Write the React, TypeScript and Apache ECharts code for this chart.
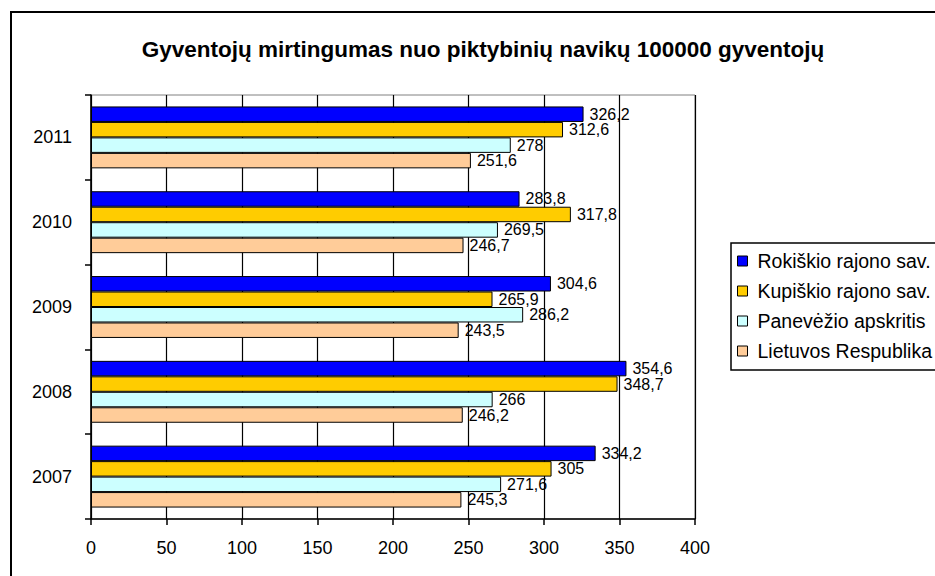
import React, { useEffect, useRef } from "react";
import * as echarts from "echarts";

const years = ["2007", "2008", "2009", "2010", "2011"];
const seriesNames = [
  "Rokiškio rajono sav.",
  "Kupiškio rajono sav.",
  "Panevėžio apskritis",
  "Lietuvos Respublika",
];
const rokiskis = [334.2, 354.6, 304.6, 283.8, 326.2];
const kupiskis = [305, 348.7, 265.9, 317.8, 312.6];
const panevezys = [271.6, 266, 286.2, 269.5, 278];
const lietuva = [245.3, 246.2, 243.5, 246.7, 251.6];
const colors = ["#0000FF", "#FFCC00", "#CCFFFF", "#FFCC99"];
const titleText = "Gyventojų mirtingumas nuo piktybinių navikų 100000 gyventojų";

const FONT = "'Liberation Sans', Arial, sans-serif";

export default function App() {
  const ref = useRef<HTMLDivElement>(null);
  useEffect(() => {
    if (!ref.current) return;
    const chart = echarts.init(ref.current, null, { renderer: "svg" });
    const dataSets = [rokiskis, kupiskis, panevezys, lietuva];
    const series = [0, 1, 2, 3].map((i) => ({
      name: seriesNames[i],
      type: "bar" as const,
      data: dataSets[i],
      barGap: "0%",
      barCategoryGap: "27%",
      itemStyle: { color: colors[i], borderColor: "#000", borderWidth: 1 },
      label: {
        show: true,
        position: "right" as const,
        distance: 6,
        color: "#000",
        fontSize: 16,
        lineHeight: 15,
        fontFamily: FONT,
        formatter: (p: any) => String(p.value).replace(".", ","),
      },
    }));
    chart.setOption({
      animation: false,
      backgroundColor: "#fff",
      textStyle: { fontFamily: FONT },
      title: {
        text: titleText,
        left: 478,
        top: 33,
        textAlign: "center",
        textStyle: { fontSize: 22.5, fontWeight: "bold", color: "#000", fontFamily: FONT },
      },
      graphic: [
        {
          type: "rect",
          shape: { x: 11, y: 12, width: 1000, height: 700 },
          style: { fill: "none", stroke: "#000", lineWidth: 2 },
          silent: true,
          z: 100,
        },
        {
          type: "rect",
          shape: { x: 731, y: 243, width: 300, height: 127 },
          style: { fill: "none", stroke: "#000", lineWidth: 1.5 },
          silent: true,
          z: 100,
        },
      ],
      legend: {
        data: seriesNames,
        orient: "vertical",
        left: 731,
        top: 243,
        padding: [8, 8, 8, 6],
        itemWidth: 10,
        itemHeight: 10,
        itemGap: 10,
        borderWidth: 0,
        icon: "rect",
        itemStyle: { borderColor: "#000", borderWidth: 1 },
        textStyle: { fontSize: 19.5, color: "#000", fontFamily: FONT, padding: [0, 0, 0, 5] },
      },
      grid: {
        left: 91,
        top: 95,
        right: 240,
        bottom: 57,
        show: true,
        borderColor: "#808080",
        borderWidth: 1,
        backgroundColor: "#fff",
      },
      xAxis: {
        type: "value",
        min: 0,
        max: 400,
        interval: 50,
        axisLine: { show: true, lineStyle: { color: "#000", width: 1.5 } },
        axisTick: { show: true, length: 6, lineStyle: { color: "#000", width: 1.5 } },
        splitLine: { show: true, lineStyle: { color: "#000", width: 1.2 } },
        axisLabel: { color: "#000", fontSize: 18, margin: 20, fontFamily: FONT },
      },
      yAxis: {
        type: "category",
        data: years,
        axisLine: { show: true, lineStyle: { color: "#000", width: 1.5 } },
        axisTick: { show: true, length: 6, lineStyle: { color: "#000", width: 1.5 } },
        axisLabel: { color: "#000", fontSize: 18, margin: 19, fontFamily: FONT },
      },
      series,
    });
    return () => chart.dispose();
  }, []);
  return (
    <div
      ref={ref}
      style={{ position: "absolute", left: 0, top: 0, width: 935, height: 576 }}
    />
  );
}
